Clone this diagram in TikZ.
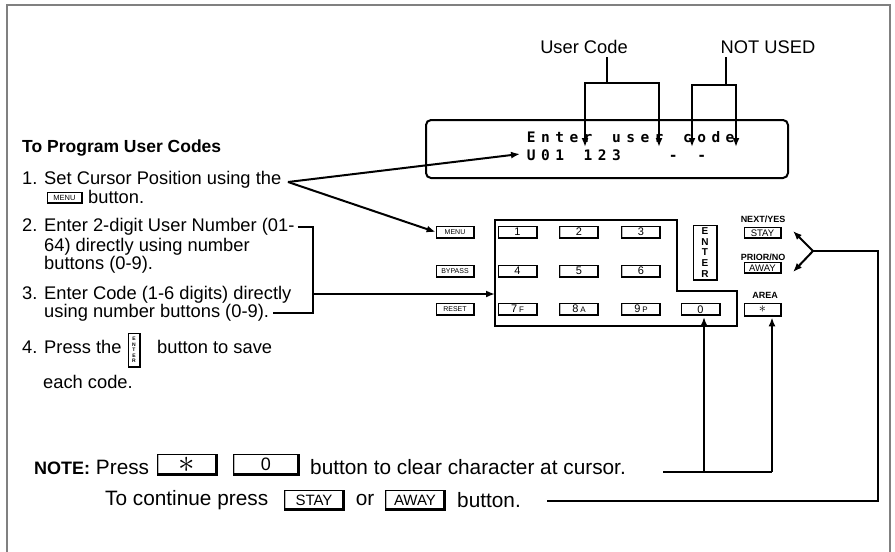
\documentclass[tikz,border=0pt]{standalone}
\usepackage{fontspec}
\usepackage{graphicx}
\setmainfont{Liberation Sans}
\newfontfamily\lcdfont{DejaVu Sans Mono}
% one fixed cell for every character of the display
\def\lcdend{lcd-end-marker}
\def\lcdgap{\relax}
\def\lcdstep#1{\ifx#1\lcdend\else\makebox[14.2pt][c]{#1}\expandafter\lcdstep\fi}
\newcommand\lcd[1]{\lcdstep#1\lcdend}
\usetikzlibrary{arrows.meta}
\tikzset{
  wire/.style={line width=2pt},
  arr/.style={wire,-{Latex[length=9pt,width=7pt]}},
  txt/.style={anchor=west, inner sep=0pt, font=\fontsize{18.3}{22}\selectfont},
  notetxt/.style={anchor=west, inner sep=0pt, font=\fontsize{20.8}{25}\selectfont},
  lcdtxt/.style={anchor=west, inner sep=0pt, font=\lcdfont\bfseries\fontsize{14.5}{14.5}\selectfont},
  keyedge/.style={line width=#1},
  key/.style={draw, fill=white, line width=0.8pt, inner sep=0pt,
    minimum width=39, minimum height=12, font=\fontsize{11}{12}\selectfont,
    path picture={
      \draw[gray!55, line width=2.5pt] (path picture bounding box.north west) -- (path picture bounding box.south west);
      \draw[line width=3pt] (path picture bounding box.north east) -- (path picture bounding box.south east) -- (path picture bounding box.south west);}},
  fnkey/.style={key, minimum width=38, font=\fontsize{7.5}{8}\selectfont},
  bigkey/.style={key, minimum width=60, minimum height=20, line width=1pt,
    path picture={
      \draw[gray!55, line width=3pt] (path picture bounding box.north west) -- (path picture bounding box.south west);
      \draw[line width=4pt] (path picture bounding box.north east) -- (path picture bounding box.south east) -- (path picture bounding box.south west);}},
  captxt/.style={inner sep=0pt, font=\fontsize{9}{10}\selectfont\bfseries},
}
\begin{document}
\begin{tikzpicture}[x=1pt, y=-1pt]
\useasboundingbox (0,0) rectangle (895,552);
\draw[gray, line width=1.5pt] (7,552) -- (7,5) -- (890,5) -- (890,552);

% display
\node[draw, line width=2pt, rounded corners=5pt, minimum width=362, minimum height=58, inner sep=0pt] (lcd) at (607,149) {};
\node[lcdtxt] (lcdtop) at (524,137) {\lcd{Enter\lcdgap user\lcdgap code}};
\node[lcdtxt] (lcdbot) at (524,155) {\lcd{U01\lcdgap 123\lcdgap\lcdgap\lcdgap -\lcdgap -}};

\node[font=\fontsize{18.3}{22}\selectfont] (lblcode) at (584,47) {User Code};
\node[font=\fontsize{18.3}{22}\selectfont] (lblfree) at (768,47) {NOT USED};
\coordinate (codeJ) at (607,83);
\coordinate (codeA) at (585,147);
\coordinate (codeB) at (659,147);
\coordinate (freeJ) at (726,85);
\coordinate (freeA) at (692,147);
\coordinate (freeB) at (736,147);
\draw[wire] (codeJ |- lblcode.south) -- (codeJ);
\draw[wire,{Latex[length=9pt,width=7pt]}-{Latex[length=9pt,width=7pt]}] (codeA) -- (codeA |- codeJ) -- (codeB |- codeJ) -- (codeB);
\draw[wire] (freeJ |- lblfree.south) -- (freeJ);
\draw[wire,{Latex[length=9pt,width=7pt]}-{Latex[length=9pt,width=7pt]}] (freeA) -- (freeA |- freeJ) -- (freeB |- freeJ) -- (freeB);

% instructions
\node[txt, font=\fontsize{17.5}{21}\selectfont\bfseries] (title) at (22,148) {To Program User Codes};
\node[txt] (item1) at (22,180) {1. Set Cursor Position using the};
\node[fnkey, minimum width=35, minimum height=11] (menuinl) at (64.5,197.5) {MENU};
\node[txt] (item1b) at (88,197) {button.};
\node[txt] (item2) at (22,227) {2. Enter 2-digit User Number (01-};
\node[txt] (item2b) at (44,247) {64) directly using number};
\node[txt] (item2c) at (44,265) {buttons (0-9).};
\node[txt] (item3) at (22,295) {3. Enter Code (1-6 digits) directly};
\node[txt] (item3b) at (44,313) {using number buttons (0-9).};
\node[txt] (item4) at (22,347) {4. Press the};
\node[key, minimum width=12, minimum height=34, font=\fontsize{5}{5.6}\selectfont\bfseries, align=center] (enterinl) at (134,350) {E\\N\\T\\E\\R};
\node[txt] (item4b) at (157,347) {button to save};
\node[txt] (item4c) at (43,382) {each code.};

% keypad
\draw[wire] (495,220) -- (677,220) -- (677,291) -- (737,291) -- (737,326) -- (495,326) -- cycle;
\foreach \lbl/\x/\y/\nm in {1/517.5/232/k1, 2/579/232/k2, 3/641/232/k3,
    4/517.5/271/k4, 5/579/271/k5, 6/641/271/k6,
    {7\,{\fontsize{8}{8}\selectfont F}}/517.5/309/k7,
    {8\,{\fontsize{8}{8}\selectfont A}}/579/309/k8,
    {9\,{\fontsize{8}{8}\selectfont P}}/641/309/k9, 0/700.5/309.5/k0}
  \node[key] (\nm) at (\x,\y) {\lbl};
\foreach \lbl/\y/\nm in {MENU/232/menukey, BYPASS/271/bypasskey, RESET/309/resetkey}
  \node[fnkey, font=\fontsize{7}{8}\selectfont] (\nm) at (455,\y) {\lbl};
\node[key, minimum width=24, minimum height=55, font=\fontsize{10}{10.6}\selectfont\bfseries, align=center] (enterkey) at (705,252.5) {E\\N\\T\\E\\R};
\node[key, minimum width=37, minimum height=11, font=\fontsize{9.5}{10}\selectfont] (staykey) at (762.5,233) {STAY};
\node[key, minimum width=37, minimum height=11, font=\fontsize{9.5}{10}\selectfont] (awaykey) at (762.5,268) {AWAY};
\node[key, minimum width=37, minimum height=13] (starkey) at (762.5,309.5) {\scalebox{1.3}{$\ast$}};
\node[captxt] (nextlbl) at (763,219) {NEXT/YES};
\node[captxt] (priorlbl) at (763,257) {PRIOR/NO};
\node[captxt] (arealbl) at (765,295) {AREA};

% connectors from the steps
\coordinate (jcur) at (288,182);
\draw[arr] (jcur) -- (520,154);
\draw[arr] (jcur) -- (menukey.west);
\coordinate (brk) at (313,294);
\draw[wire] ([xshift=3pt]item2.east) -- (item2.east -| brk) -- (item3b.east -| brk) -- ([xshift=4pt]item3b.east);
\coordinate (kpin) at (495,294);
\draw[arr] (brk) -- (kpin);

% notes
\node[notetxt] (note) at (34,467) {{\fontsize{18}{21}\selectfont\bfseries NOTE:} Press};
\node[bigkey, minimum height=21] (starbig) at (187,464.5) {\scalebox{3}{$\ast$}};
\node[bigkey, minimum width=66, minimum height=21, font=\fontsize{18}{20}\selectfont] (zerobig) at (266,464.5) {0};
\node[notetxt] (clrtxt) at (310,467) {button to clear character at cursor.};
\node[notetxt] (cont) at (105,500) {To continue press};
\node[bigkey, font=\fontsize{15}{16}\selectfont] (staybig) at (314,500) {STAY};
\node[notetxt, anchor=center] (ortxt) at (365,500) {or};
\node[bigkey, font=\fontsize{15}{16}\selectfont] (awaybig) at (415,500) {AWAY};
\node[notetxt] (conttxt) at (457,500) {button.};

\coordinate (clrL) at (663,472);
\coordinate (clrM) at (704,472);
\coordinate (clrR) at (772,472);
\draw[wire] (clrL) -- (clrR);
\draw[arr, shorten >=1pt] (clrM) -- (clrM |- k0.south);
\draw[arr, shorten >=1pt] (clrR) -- (clrR |- starkey.south);

\coordinate (jnav) at (813,251);
\coordinate (stayin) at (793,231);
\coordinate (awayin) at (793,272);
\coordinate (loopR) at (878,501);
\draw[wire] (547,501) -- (loopR) -- (loopR |- jnav) -- (jnav);
\draw[arr] (jnav) -- (stayin);
\draw[arr] (jnav) -- (awayin);
\end{tikzpicture}
\end{document}
